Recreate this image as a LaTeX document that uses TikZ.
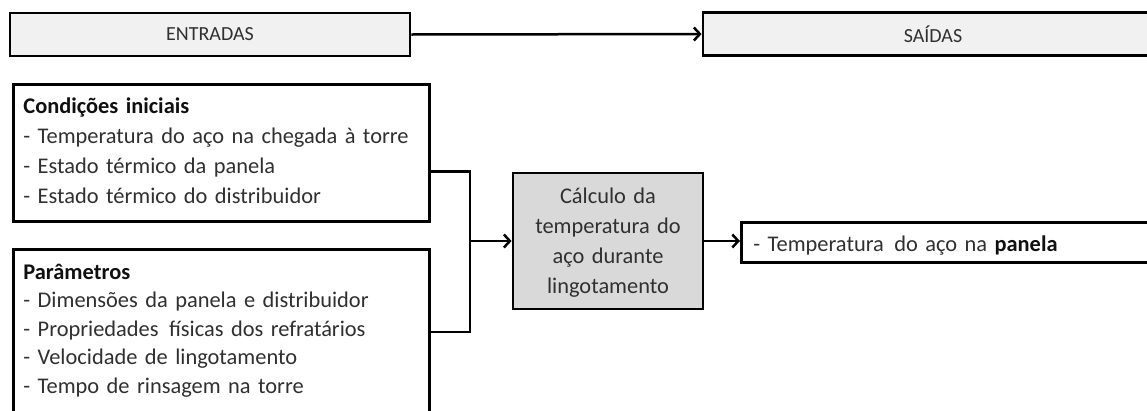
\documentclass[tikz,border=0pt]{standalone}
\usepackage{fontspec}
\setmainfont{Carlito}
\usetikzlibrary{arrows.meta,calc}

\definecolor{txtgray}{HTML}{303030}
\definecolor{headfill}{HTML}{F1F1F1}
\definecolor{calcfill}{HTML}{D9D9D9}
\definecolor{boldtxt}{HTML}{101010}

\tikzset{
  panel/.style={draw=black, line width=2.8pt, rectangle, inner sep=0pt,
    text=txtgray},
  header/.style={panel, fill=headfill, minimum height=43pt,
    font=\fontsize{20}{24}\selectfont},
  listbox/.style={panel, fill=white, anchor=north west, align=left,
    inner xsep=10pt, inner ysep=0pt},
  link/.style={line width=2.5pt, draw=black},
  arrowlink/.style={link, -{Straight Barb[length=6pt,width=13pt,line width=2.5pt]}},
}
\newcommand{\hd}[1]{\textcolor{boldtxt}{\textbf{#1}}}
\newcommand{\wsp}{\hspace{3pt}}

\begin{document}
\begin{tikzpicture}[x=1pt,y=-1pt]
\useasboundingbox (0,0) rectangle (1147,410);

% top row: inputs and outputs
\node[header, minimum width=400pt] (entr) at (210,34.5) {ENTRADAS};
\node[header, minimum width=460pt] (sai) at (933,34) {SAÍDAS};
\draw[arrowlink] (entr.east) -- (sai.west);

% initial conditions
\node[listbox, text width=396pt,
      text height=29pt, text depth=108pt,
      font=\fontsize{22.4}{30}\selectfont] (cond) at (12,83)
  {\hd{Condições iniciais}\\
   - Temperatura do aço na chegada à torre\\
   - Estado térmico da panela\\
   - Estado térmico do distribuidor};

% parameters
\node[listbox, text width=396pt,
      text height=30pt, text depth=142pt,
      font=\fontsize{22.4}{28.5}\selectfont] (param) at (12,248)
  {\hd{Parâmetros}\\
   - Dimensões da panela e distribuidor\\
   - Propriedades\wsp{} físicas dos refratários\\
   - Velocidade de lingotamento\\
   - Tempo de rinsagem na torre};

% calculation block
\node[panel, fill=calcfill, text width=190pt, inner sep=0pt,
      text height=30pt, text depth=106pt,
      align=center, font=\fontsize{22.4}{30}\selectfont] (calc) at (608,241)
  {Cálculo da\\temperatura do\\aço durante\\lingotamento};

% result
\node[listbox, text width=416pt, inner xsep=12pt,
      text height=29pt, text depth=11pt,
      font=\fontsize{22.4}{28}\selectfont] (res) at (740,221)
  {- Temperatura\wsp{} do aço na \hd{panela}};

% joining lines
\coordinate (bus) at (470,241);
\draw[link] (cond.east |- calc.north) -| (bus);
\draw[link] ([yshift=-84pt]param.north east) -| (bus);
\draw[arrowlink] (bus) -- (calc.west);
\draw[arrowlink] (calc.east) -- (calc.east -| res.west);
\end{tikzpicture}
\end{document}
